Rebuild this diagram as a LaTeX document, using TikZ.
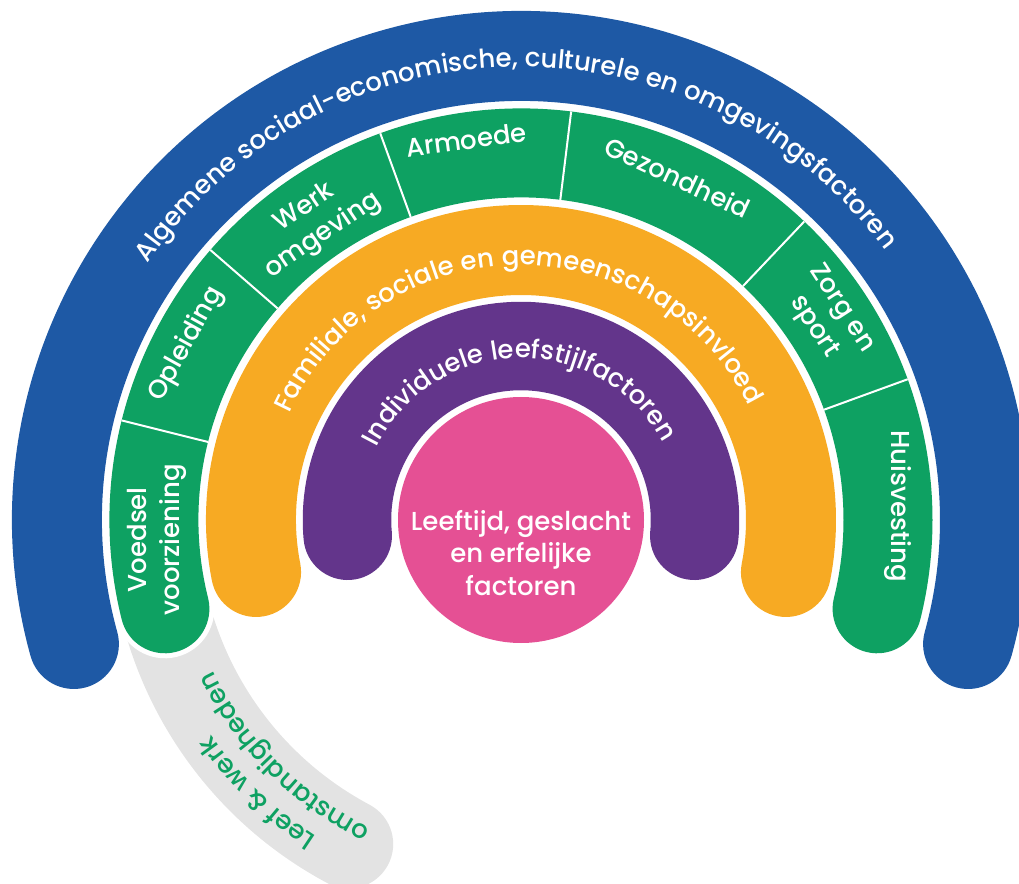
\documentclass[tikz,border=0pt]{standalone}
\usepackage{fontspec}
\setmainfont{Poppins}[UprightFont={* Medium}]
\usetikzlibrary{decorations.text}

\definecolor{bandblue}{RGB}{30,89,165}
\definecolor{bandgreen}{RGB}{14,161,98}
\definecolor{bandorange}{RGB}{247,170,35}
\definecolor{bandpurple}{RGB}{99,53,139}
\definecolor{corepink}{RGB}{229,80,148}
\definecolor{bandgray}{RGB}{227,227,227}

\begin{document}
\begin{tikzpicture}[x=1pt,y=1pt,
  band/.style={line width=#1, line cap=round},
  label/.style={text=white, font=\fontsize{26}{33}\selectfont, align=center, inner sep=0pt},
  separator/.style={white, line width=2},
  arcwhite/.style={decorate, decoration={text along path, text align=center,
      text color=white, text={|\fontsize{26}{30}\selectfont|#1}}},
  arcgreen/.style={decorate, decoration={text along path, text align=center,
      text color=bandgreen, text={|\fontsize{26}{30}\selectfont|#1}}},
  ]
  \clip (-521,-363) rectangle (498,520);

  % grey tail continuing the green ring below its left end
  \draw[band=89, bandgray] (190:367) arc[start angle=190, end angle=242, radius=367];

  % outer ring
  \draw[band=90, bandblue] (195.5:464) arc[start angle=195.5, end angle=-15.5, radius=464];

  % green ring with a white rim and its segments
  \draw[band=99, white] (194:367) arc[start angle=194, end angle=-14, radius=367];
  \draw[band=89, bandgreen] (194:367) arc[start angle=194, end angle=-14, radius=367];
  \foreach \a in {166,139,110,83,46.5,20}
    \draw[separator] (\a:322.5) -- (\a:411.5);

  % orange and purple rings
  \draw[band=90, bandorange] (191.1:270) arc[start angle=191.1, end angle=-11.1, radius=270];
  \draw[band=88.5, bandpurple] (185.2:174) arc[start angle=185.2, end angle=-5.2, radius=174];

  % core
  \node[circle, fill=corepink, minimum size=246, inner sep=0pt] (core) at (0,0) {};
  \node[label, font=\fontsize{26}{32.5}\selectfont] (coretext) at (0,-33)
    {Leeftijd, geslacht\\en erfelijke\\factoren};

  % curved ring titles
  \path[arcwhite={Algemene sociaal-economische, culturele en omgevingsfactoren}]
    (171:453) arc[start angle=171, end angle=11, radius=453];
  \path[arcwhite={Familiale, sociale en gemeenschapsinvloed}]
    (171:255) arc[start angle=171, end angle=11, radius=255];
  \path[arcwhite={Individuele leefstijlfactoren}]
    (171:162) arc[start angle=171, end angle=11, radius=162];
  \path[arcgreen={Leef {\&} werk}]
    (261:377) arc[start angle=261, end angle=191, radius=377];
  \path[arcgreen={omstandigheden}]
    (260:343) arc[start angle=260, end angle=190, radius=343];

  % segment labels of the green ring
  \node[label, rotate=90]  (voedsel)   at (183.1:364.5) {Voedsel\\voorziening};
  \node[label, rotate=61]  (opleiding) at (152.3:378) {Opleiding};
  \node[label, rotate=34]  (werk)      at (124.8:363) {Werk\\omgeving};
  \node[label, rotate=7.5] (armoede)   at (98.2:384) {Armoede};
  \node[label, rotate=-25] (gezond)    at (65.4:377) {Gezondheid};
  \node[label, rotate=-57] (zorg)      at (33.4:367) {Zorg en\\sport};
  \node[label, rotate=-90] (huis)      at (2.1:377) {Huisvesting};
\end{tikzpicture}
\end{document}
